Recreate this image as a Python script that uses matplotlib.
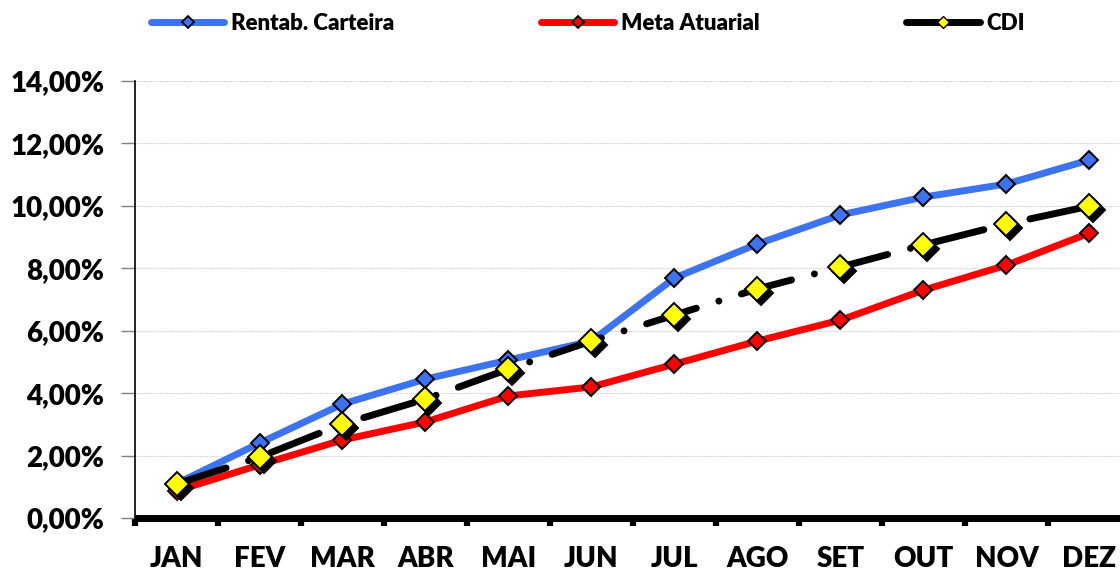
import matplotlib.pyplot as plt
from matplotlib.lines import Line2D
from matplotlib.ticker import FuncFormatter, FixedLocator
from matplotlib.transforms import offset_copy

plt.rcParams['font.family'] = ['Lato', 'DejaVu Sans']
plt.rcParams['font.weight'] = 'heavy'

meses = ["JAN", "FEV", "MAR", "ABR", "MAI", "JUN", "JUL", "AGO", "SET", "OUT", "NOV", "DEZ"]
carteira = [1.10, 2.40, 3.65, 4.45, 5.06, 5.67, 7.69, 8.78, 9.71, 10.28, 10.70, 11.47]
meta = [0.87, 1.70, 2.50, 3.08, 3.91, 4.20, 4.93, 5.67, 6.34, 7.30, 8.10, 9.13]
cdi = [1.09, 1.95, 3.01, 3.81, 4.77, 5.67, 6.50, 7.34, 8.04, 8.75, 9.42, 9.99]

fig = plt.figure(figsize=(11.2, 5.73), dpi=100)
ax = fig.add_axes([135/1120, 55/573, 996/1120, 437/573])

x = list(range(len(meses)))
blue = "#3c73f0"
red = "#ff0000"

ax.plot(x, carteira, color=blue, lw=5, marker="D", ms=9, mfc=blue,
        mec="black", mew=1.4, zorder=3, clip_on=False)
ax.plot(x, meta, color=red, lw=5, marker="D", ms=9, mfc=red,
        mec="black", mew=1.4, zorder=4, clip_on=False)

# CDI: dash-dot black line, yellow diamonds with a black shadow
dash = (7.5, 3.4, 0.01, 3.4)
sh = offset_copy(ax.transData, fig=fig, x=4, y=-4, units="dots")
ax.plot(x, cdi, ls="none", marker="D", ms=12, mfc="black", mec="black",
        mew=1.4, transform=sh, zorder=5, clip_on=False)
ax.plot(x, cdi, color="black", lw=5, dashes=dash, dash_capstyle="round",
        marker="D", ms=12, mfc="#ffff00", mec="black", mew=1.4,
        zorder=6, clip_on=False)

ax.set_xlim(-0.5, 11.5)
ax.set_ylim(0, 14)
ax.set_yticks(range(0, 15, 2))
ax.yaxis.set_major_formatter(FuncFormatter(lambda v, p: f"{v:.2f}%".replace(".", ",")))
ax.grid(axis="y", color="#c8c8c8", ls=(0, (1, 1)), lw=0.8)
ax.set_axisbelow(True)

ax.xaxis.set_major_locator(FixedLocator([i - 0.5 for i in range(13)]))
ax.xaxis.set_major_formatter(FuncFormatter(lambda v, p: ""))
ax.xaxis.set_minor_locator(FixedLocator(x))
ax.set_xticklabels(meses, minor=True)
ax.tick_params(axis="x", which="major", length=6, width=4.5, color="black", direction="out")
ax.tick_params(axis="x", which="minor", length=0, pad=20, labelsize=20)
ax.tick_params(axis="y", length=10, width=1, color="#808080", labelsize=20, pad=12)
for lab in ax.get_xticklabels(minor=True) + ax.get_yticklabels():
    lab.set_fontweight("heavy")

ax.spines["top"].set_visible(False)
ax.spines["right"].set_visible(False)
ax.spines["left"].set_linewidth(1.2)
ax.spines["bottom"].set_linewidth(5)
ax.spines["bottom"].set_capstyle("butt")

handles = [
    Line2D([], [], color=blue, lw=5, marker="D", ms=6, mfc=blue, mec="black", mew=1.3, solid_capstyle="round"),
    Line2D([], [], color=red, lw=5, marker="D", ms=6, mfc=red, mec="black", mew=1.3, solid_capstyle="round"),
    Line2D([], [], color="black", lw=5, marker="D", ms=6, mfc="#ffff00", mec="black", mew=1.0, solid_capstyle="round"),
]
fig.legend(handles, ["Rentab. Carteira", "Meta Atuarial", "CDI"], loc="center",
           bbox_to_anchor=(588/1120, 1 - 23/573), ncol=3, frameon=False,
           handlelength=3.3, handletextpad=0.3, columnspacing=6.6,
           prop={"size": 16, "weight": "heavy"})

fig.savefig("out.png", dpi=100)
